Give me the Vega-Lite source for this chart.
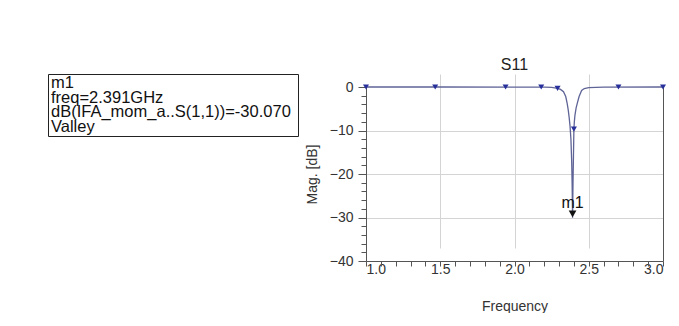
{
  "$schema": "https://vega.github.io/schema/vega-lite/v6.json",
  "background": "white",
  "padding": {"left": 47, "top": 57, "right": 6, "bottom": 0},
  "spacing": 6,
  "config": {
    "font": "Liberation Sans",
    "axis": {"labelFont": "Liberation Sans", "titleFont": "Liberation Sans", "labelFontSize": 14, "labelColor": "#333", "tickColor": "#555", "domainColor": "#555", "titleFontSize": 14, "titleFontWeight": "normal", "titleColor": "#333", "gridColor": "#d4d4d4"}
  },
  "datasets": {
    "box": [
      {"row": 1, "text": "m1"},
      {"row": 2, "text": "freq=2.391GHz"},
      {"row": 3, "text": "dB(IFA_mom_a..S(1,1))=-30.070"},
      {"row": 4, "text": "Valley"}
    ],
    "curve": [
      {"freq": 1.0, "dB": 0},
      {"freq": 1.5, "dB": 0},
      {"freq": 2.0, "dB": -0.02},
      {"freq": 2.2, "dB": -0.05},
      {"freq": 2.25, "dB": -0.1},
      {"freq": 2.29, "dB": -0.3},
      {"freq": 2.31, "dB": -0.55},
      {"freq": 2.33, "dB": -1.1},
      {"freq": 2.345, "dB": -2.2},
      {"freq": 2.355, "dB": -3.8},
      {"freq": 2.362, "dB": -5.3},
      {"freq": 2.368, "dB": -7},
      {"freq": 2.374, "dB": -9},
      {"freq": 2.38, "dB": -12},
      {"freq": 2.385, "dB": -17},
      {"freq": 2.388, "dB": -22},
      {"freq": 2.391, "dB": -30.07},
      {"freq": 2.394, "dB": -22},
      {"freq": 2.397, "dB": -16},
      {"freq": 2.4, "dB": -9.7},
      {"freq": 2.403, "dB": -8},
      {"freq": 2.407, "dB": -6.5},
      {"freq": 2.415, "dB": -4.8},
      {"freq": 2.423, "dB": -3.7},
      {"freq": 2.435, "dB": -2.2},
      {"freq": 2.452, "dB": -0.8},
      {"freq": 2.47, "dB": -0.35},
      {"freq": 2.5, "dB": -0.15},
      {"freq": 2.6, "dB": -0.05},
      {"freq": 3.0, "dB": 0}
    ],
    "samples": [
      {"freq": 1.0, "dB": 0},
      {"freq": 1.466, "dB": 0},
      {"freq": 1.94, "dB": 0},
      {"freq": 2.18, "dB": 0},
      {"freq": 2.29, "dB": -0.3},
      {"freq": 2.4, "dB": -9.7},
      {"freq": 2.7, "dB": 0},
      {"freq": 3.0, "dB": 0}
    ],
    "marker": [
      {"freq": 2.391, "dB": -30.07, "label": "m1"}
    ]
  },
  "hconcat": [
    {
      "width": 250,
      "height": 62,
      "view": {"stroke": "#222", "strokeWidth": 1},
      "data": {"name": "box"},
      "mark": {"type": "text", "align": "left", "baseline": "middle", "dx": 3, "fontSize": 16.5, "color": "#111", "font": "Liberation Sans"},
      "encoding": {
        "x": {"value": 0},
        "y": {"field": "row", "type": "ordinal", "axis": null, "scale": {"type": "point", "padding": 0.65}},
        "text": {"field": "text", "type": "nominal"}
      }
    },
    {
      "width": 297,
      "height": 187,
      "view": {"stroke": null},
      "title": {"text": "S11", "fontSize": 16, "fontWeight": "normal", "font": "Liberation Sans", "color": "#222", "offset": 1},
      "resolve": {"axis": {"x": "independent", "y": "independent"}},
      "layer": [
        {
          "data": {"name": "curve"},
          "mark": {"type": "line", "color": "#5f6497", "strokeWidth": 1.3, "clip": false},
          "encoding": {
            "x": {
              "field": "freq", "type": "quantitative",
              "scale": {"domain": [1, 3], "nice": false, "zero": false},
              "axis": {"orient": "bottom", "values": [1.0, 1.5, 2.0, 2.5, 3.0], "format": ".1f", "labelOverlap": false, "labelPadding": -4, "tickSize": 5, "grid": false, "title": "Frequency", "titlePadding": 23}
            },
            "y": {
              "field": "dB", "type": "quantitative",
              "scale": {"domain": [-40, 0], "range": [187, 13], "nice": false, "zero": false},
              "axis": {"orient": "left", "values": [-40, -30, -20, -10, 0], "format": "d", "labelOverlap": false, "labelPadding": 5, "tickSize": 8, "grid": false, "title": "Mag. [dB]", "titlePadding": 10}
            }
          }
        },
        {
          "data": {"name": "samples"},
          "mark": {"type": "point", "shape": "triangle-down", "filled": true, "size": 36, "color": "#27309a", "opacity": 1, "clip": false},
          "encoding": {
            "x": {"field": "freq", "type": "quantitative", "axis": {"orient": "bottom", "values": [1.5, 2.0, 2.5], "grid": true, "labels": false, "ticks": false, "domain": false, "title": null}},
            "y": {"field": "dB", "type": "quantitative", "axis": {"orient": "left", "values": [-30, -20, -10], "grid": true, "labels": false, "ticks": false, "domain": false, "title": null}}
          }
        },
        {
          "data": {"name": "marker"},
          "mark": {"type": "point", "shape": "triangle-down", "filled": true, "size": 60, "color": "#111", "opacity": 1, "yOffset": -4},
          "encoding": {
            "x": {"field": "freq", "type": "quantitative", "axis": {"orient": "bottom", "values": [1.1, 1.2, 1.3, 1.4, 1.6, 1.7, 1.8, 1.9, 2.1, 2.2, 2.3, 2.4, 2.6, 2.7, 2.8, 2.9], "grid": false, "labels": false, "ticks": true, "tickSize": 5, "domain": false, "title": null}},
            "y": {"field": "dB", "type": "quantitative", "axis": {"orient": "left", "values": [-38, -36, -34, -32, -28, -26, -24, -22, -18, -16, -14, -12, -8, -6, -4, -2], "grid": false, "labels": false, "ticks": true, "tickSize": 5, "domain": false, "title": null}}
          }
        },
        {
          "data": {"name": "marker"},
          "mark": {"type": "text", "fontSize": 16, "color": "#111", "baseline": "alphabetic", "dy": -10, "font": "Liberation Sans"},
          "encoding": {
            "x": {"field": "freq", "type": "quantitative", "axis": null},
            "y": {"field": "dB", "type": "quantitative", "axis": {"orient": "right", "domain": true, "labels": false, "ticks": false, "grid": false, "title": null}},
            "text": {"field": "label", "type": "nominal"}
          }
        }
      ]
    }
  ]
}
